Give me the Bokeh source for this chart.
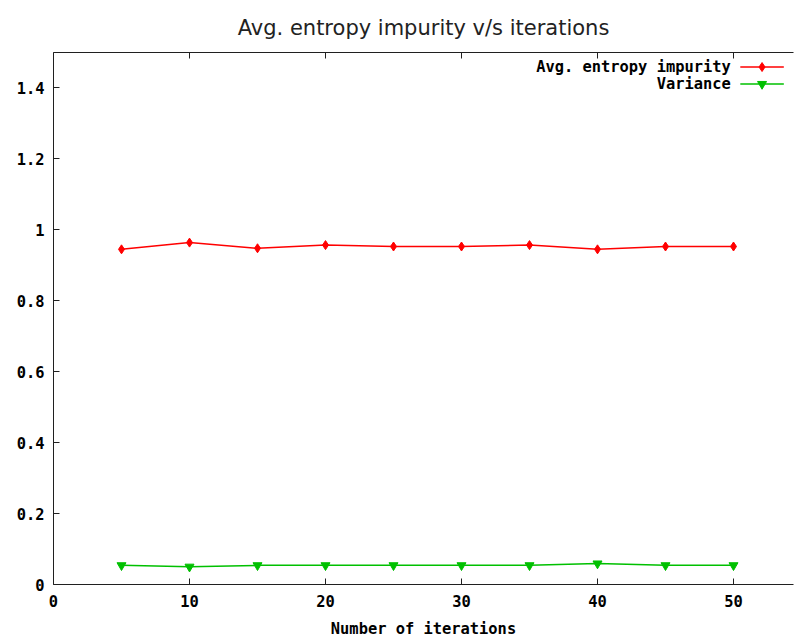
from bokeh.plotting import figure
from bokeh.models import Range1d, LinearAxis, FixedTicker, CustomJSTickFormatter
from bokeh.core.properties import value
from bokeh.embed import file_html
from bokeh.resources import INLINE

# ---- data ----
iterations = [5, 10, 15, 20, 25, 30, 35, 40, 45, 50]
avg_entropy = [0.945, 0.964, 0.948, 0.957, 0.953, 0.953, 0.957, 0.945, 0.953, 0.953]
variance = [0.054, 0.050, 0.054, 0.054, 0.054, 0.054, 0.054, 0.059, 0.054, 0.054]
x_ticks = [0, 10, 20, 30, 40, 50]
y_ticks = [0, 0.2, 0.4, 0.6, 0.8, 1.0, 1.2, 1.4]
series_names = ["Avg. entropy impurity", "Variance"]
title_text = "Avg. entropy impurity v/s iterations"
x_label = "Number of iterations"

RED = "#ff0000"
GREEN = "#00c000"
AXIS = "#202020"
MONO = "DejaVu Sans Mono"
MONO_SIZE = "15.4px"

FRAME_W, FRAME_H = 740, 532
X_END, Y_END = FRAME_W / 13.6, 1.5

p = figure(frame_width=FRAME_W, frame_height=FRAME_H,
           x_range=Range1d(0, X_END), y_range=Range1d(0, Y_END),
           output_backend="svg", toolbar_location=None,
           min_border_left=53, min_border_right=1,
           min_border_top=52, min_border_bottom=53,
           x_axis_location=None, y_axis_location=None)
p.background_fill_color = "white"
p.border_fill_color = "white"
p.outline_line_color = None
p.xgrid.visible = False
p.ygrid.visible = False

p.title.text = title_text
p.title.text_font = "DejaVu Sans"
p.title.text_font_size = "21px"
p.title.text_font_style = "normal"
p.title.text_color = "#222222"
p.title.align = "center"
p.title.standoff = 26

fmt = CustomJSTickFormatter(code="return String(Math.round(tick*10)/10);")
blank_fmt = CustomJSTickFormatter(code="return '';")

def style_axis(ax):
    ax.axis_line_color = AXIS
    ax.axis_line_width = 1
    ax.major_tick_line_color = AXIS
    ax.major_tick_in = 6
    ax.major_tick_out = 0
    ax.minor_tick_line_color = None
    ax.major_label_text_font = MONO
    ax.major_label_text_font_style = "bold"
    ax.major_label_text_font_size = MONO_SIZE
    ax.major_label_text_color = "#000000"
    ax.formatter = fmt

xb = LinearAxis(ticker=FixedTicker(ticks=x_ticks))
style_axis(xb)
xb.major_label_standoff = 10
xb.axis_label = x_label
xb.axis_label_text_font = MONO
xb.axis_label_text_font_style = "bold"
xb.axis_label_text_font_size = MONO_SIZE
xb.axis_label_text_color = "#000000"
xb.axis_label_standoff = 10
p.add_layout(xb, "below")

# mirror ticks along the top edge (no labels)
xt = LinearAxis(ticker=FixedTicker(ticks=x_ticks))
style_axis(xt)
xt.formatter = blank_fmt
xt.major_label_standoff = 0
p.add_layout(xt, "above")

yl = LinearAxis(ticker=FixedTicker(ticks=y_ticks))
style_axis(yl)
yl.major_label_standoff = 9
p.add_layout(yl, "left")

# ---- series ----
p.line(iterations, avg_entropy, line_color=RED, line_width=1.5)
p.scatter(iterations, avg_entropy, marker="diamond", size=9,
          fill_color=RED, line_color=RED)
p.line(iterations, variance, line_color=GREEN, line_width=1.5)
p.scatter(iterations, variance, marker="inverted_triangle", size=9,
          fill_color=GREEN, line_color=GREEN)

# ---- legend (gnuplot style: text right-aligned, key on the right) ----
leg_text_x = 49.8
leg_key = [50.5, 53.7]
leg_y = [1.459, 1.411]
p.text(x=[leg_text_x, leg_text_x], y=leg_y, text=series_names,
       text_font=value(MONO), text_font_style="bold", text_font_size=MONO_SIZE,
       text_align="right", text_baseline="middle", text_color="#000000")
p.line(leg_key, [leg_y[0], leg_y[0]], line_color=RED, line_width=1.5)
p.scatter([sum(leg_key) / 2], [leg_y[0]], marker="diamond", size=9,
          fill_color=RED, line_color=RED)
p.line(leg_key, [leg_y[1], leg_y[1]], line_color=GREEN, line_width=1.5)
p.scatter([sum(leg_key) / 2], [leg_y[1]], marker="inverted_triangle", size=9,
          fill_color=GREEN, line_color=GREEN)

open("out.html", "w").write(file_html(p, INLINE))
